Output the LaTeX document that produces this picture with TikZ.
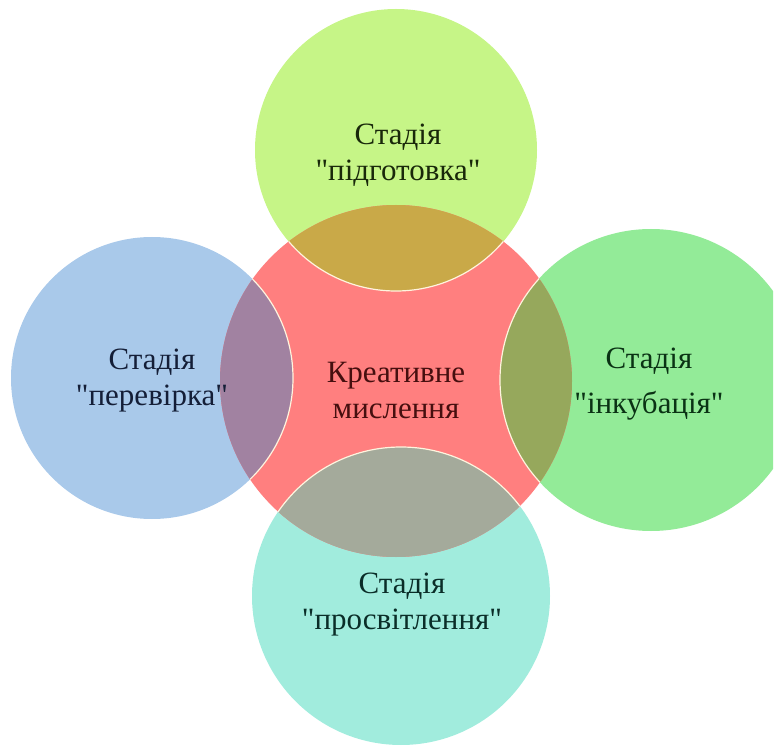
\documentclass[tikz,border=0pt]{standalone}
\usepackage{fontspec}
\setmainfont{Liberation Serif}[Ligatures=TeXOff]
\definecolor{cRed}{RGB}{255,127,127}
\definecolor{cTop}{RGB}{198,245,135}
\definecolor{cTopX}{RGB}{201,169,72}
\definecolor{cLeft}{RGB}{169,201,234}
\definecolor{cLeftX}{RGB}{161,130,161}
\definecolor{cRight}{RGB}{147,235,152}
\definecolor{cRightX}{RGB}{150,168,92}
\definecolor{cBot}{RGB}{161,236,221}
\definecolor{cBotX}{RGB}{164,170,155}
\definecolor{cRim}{RGB}{255,244,222}
\definecolor{tTop}{RGB}{25,40,10}
\definecolor{tLeft}{RGB}{20,30,55}
\definecolor{tCen}{RGB}{70,15,15}
\definecolor{tRight}{RGB}{10,50,20}
\definecolor{tBot}{RGB}{10,45,40}
\begin{document}
\begin{tikzpicture}[x=1pt,y=-1pt,
  lbl/.style={align=center,inner sep=0pt,font=\fontsize{31}{36}\selectfont},
  rim/.style={draw=cRim,line width=1.2pt}]
\useasboundingbox (0,0) rectangle (777,751);
\coordinate (cC) at (396,381);
\coordinate (cT) at (396,150);
\coordinate (cL) at (152,378);
\coordinate (cR) at (651,380);
\coordinate (cB) at (401,596);
% outer circles
\fill[cTop] (cT) circle[radius=141pt];
\fill[cLeft] (cL) circle[radius=141pt];
\begin{scope}
  \clip (0,0) rectangle (773,751);
  \fill[cRight] (cR) circle[radius=151pt];
\end{scope}
\fill[cBot] (cB) circle[radius=149pt];
% centre circle
\fill[cRed] (cC) circle[radius=176pt];
% overlaps
\begin{scope}
  \clip (cC) circle[radius=176pt];
  \fill[cTopX] (cT) circle[radius=141pt];
  \fill[cLeftX] (cL) circle[radius=141pt];
  \fill[cRightX] (cR) circle[radius=151pt];
  \fill[cBotX] (cB) circle[radius=149pt];
  \draw[rim] (cT) circle[radius=141pt];
  \draw[rim] (cL) circle[radius=141pt];
  \draw[rim] (cR) circle[radius=151pt];
  \draw[rim] (cB) circle[radius=149pt];
\end{scope}
% labels
\node[lbl,text=tTop] (tT) at (398,155) {Стадія\\"підготовка"};
\node[lbl,text=tLeft] (tL) at (152,381) {Стадія\\"перевірка"};
\node[lbl,text=tCen] (tC) at (396,391) {Креативне\\мислення};
\node[lbl,text=tRight] (tR) at (649,384) {Стадія\\[9pt]"інкубація"};
\node[lbl,text=tBot] (tB) at (402,605) {Стадія\\"просвітлення"};
\end{tikzpicture}
\end{document}
